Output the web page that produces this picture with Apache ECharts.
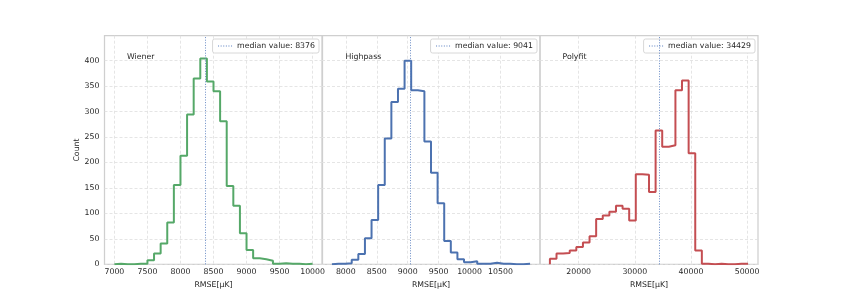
<!DOCTYPE html>
<html><head><meta charset="utf-8">
<script src="https://cdn.jsdelivr.net/npm/echarts@6/dist/echarts.min.js"></script>
<style>html,body{margin:0;padding:0;background:#fff}#c{width:843px;height:298px}</style>
</head><body><div id="c"></div>
<script>
const panelNames = ['Wiener', 'Highpass', 'Polyfit'];
const medians = [8376, 9041, 34429];
const binStarts = [7000, 7775, 14881];
const binWidths = [100, 106.8, 1176.6];
const wienerCounts = [1,0,0,1,1,8,21,41,82,156,213,294,365,404,359,340,281,154,115,61,28,12,10,7,1,2,1,1,0,1];
const highpassCounts = [1,1,2,9,20,51,87,156,247,319,345,400,342,340,241,180,120,46,23,10,4,6,1,1,3,1,1,0,0,1];
const polyfitCounts = [11,21,22,27,34,43,55,89,96,103,115,109,86,177,176,142,263,231,234,342,361,218,27,1,0,1,0,0,1,1];
const xTicksWiener = [7000,7500,8000,8500,9000,9500,10000];
const xTicksHighpass = [8000,8500,9000,9500,10000,10500];
const xTicksPolyfit = [20000,30000,40000,50000];
const yTicks = [0,50,100,150,200,250,300,350,400];
const yMax = 449;

const countsList = [wienerCounts, highpassCounts, polyfitCounts];
const xTicksList = [xTicksWiener, xTicksHighpass, xTicksPolyfit];
const colors = ['#55a868', '#4c72b0', '#c44e52'];
const medianColor = '#5a7fc0';
const FONT = 'DejaVu Sans';
const FS = 7.8;
const gridLefts = [104.5, 322, 540];
const gridW = 218;
const legendRights = [524, 306, 88];
const titleLefts = [127, 345.5, 562.5];

function stepData(start, width, counts) {
  const pts = [[start, 0]];
  counts.forEach((c, i) => pts.push([start + i * width, c]));
  const end = start + counts.length * width;
  pts.push([end, counts[counts.length - 1]]);
  pts.push([end, 0]);
  return pts;
}

const grids = [], xAxes = [], yAxes = [], series = [], legends = [], titles = [];
for (let i = 0; i < 3; i++) {
  const start = binStarts[i], w = binWidths[i], n = countsList[i].length;
  const end = start + n * w;
  const pad = (end - start) * 0.05;
  grids.push({left: gridLefts[i], top: 35.7, width: gridW, height: 228.6, show: true,
    borderColor: '#cfcfcf', borderWidth: 1.25, backgroundColor: 'transparent'});
  xAxes.push({type: 'value', gridIndex: i, min: start - pad, max: end + pad,
    name: 'RMSE[μK]', nameLocation: 'middle', nameGap: 15,
    nameTextStyle: {fontFamily: FONT, fontSize: FS, color: '#262626'},
    axisLine: {show: false}, axisTick: {show: false, customValues: xTicksList[i]},
    axisLabel: {customValues: xTicksList[i], formatter: v => String(v), fontFamily: FONT, fontSize: FS, color: '#262626', margin: 4},
    splitLine: {show: true, lineStyle: {color: '#dedede', type: [3, 2], width: 0.8}}});
  yAxes.push({type: 'value', gridIndex: i, min: 0, max: yMax,
    name: i === 0 ? 'Count' : '', nameLocation: 'middle', nameGap: 22.5,
    nameTextStyle: {fontFamily: FONT, fontSize: FS, color: '#262626'},
    axisLine: {show: false}, axisTick: {show: false, customValues: yTicks},
    axisLabel: {show: i === 0, customValues: yTicks, formatter: v => String(v), fontFamily: FONT, fontSize: FS, color: '#262626', margin: 5},
    splitLine: {show: true, lineStyle: {color: '#dedede', type: [3, 2], width: 0.8}}});
  const medName = 'median value: ' + medians[i];
  series.push({type: 'line', name: panelNames[i], xAxisIndex: i, yAxisIndex: i, step: 'end',
    symbol: 'none', data: stepData(start, w, countsList[i]),
    lineStyle: {color: colors[i], width: 2}, itemStyle: {color: colors[i]}, z: 3,
    markLine: {silent: true, symbol: ['none', 'none'], label: {show: false}, animation: false,
      lineStyle: {color: medianColor, type: [1, 1.6], width: 1, opacity: 0.9},
      data: [{xAxis: medians[i]}]}});
  series.push({type: 'line', name: medName, xAxisIndex: i, yAxisIndex: i, symbol: 'none', showSymbol: false, data: [],
    lineStyle: {color: medianColor, type: [1, 1.6], width: 1}, itemStyle: {color: medianColor}});
  legends.push({data: [medName], right: legendRights[i], top: 39, orient: 'horizontal',
    itemWidth: 14, itemHeight: 8, padding: [3, 4, 3, 5], backgroundColor: '#fff',
    borderColor: '#d8d8d8', borderWidth: 1, borderRadius: 2, selectedMode: false,
    itemStyle: {opacity: 0},
    lineStyle: {color: medianColor, type: [1, 1.6], width: 1, opacity: 1},
    textStyle: {fontFamily: FONT, fontSize: FS, color: '#262626'}});
  titles.push({text: panelNames[i], left: titleLefts[i], top: 52.5, padding: 0,
    textStyle: {fontFamily: FONT, fontSize: FS, fontWeight: 'normal', color: '#262626'}});
}

const chart = echarts.init(document.getElementById('c'), null, {renderer: 'canvas'});
chart.setOption({animation: false, backgroundColor: '#fff', title: titles, legend: legends,
  grid: grids, xAxis: xAxes, yAxis: yAxes, series: series});
</script></body></html>
